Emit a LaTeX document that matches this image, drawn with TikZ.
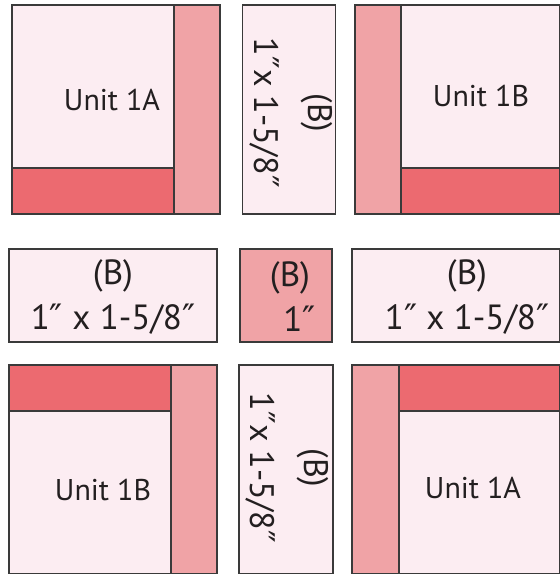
\documentclass[tikz,border=0pt]{standalone}
\usepackage{fontspec}
\setmainfont{PT Sans}
\newfontfamily\markfont{DejaVu Sans}
\definecolor{patchlight}{HTML}{FCEDF2}
\definecolor{patchmid}{HTML}{F0A3A6}
\definecolor{patchdark}{HTML}{EC6A70}
\definecolor{seam}{HTML}{3A3A3A}
\definecolor{ink}{HTML}{231F20}
\newcommand{\inchmark}{{\markfont ″}}

\begin{document}
\begin{tikzpicture}[x=1pt,y=-1pt,line width=1.2pt,
  light/.style={fill=patchlight,draw=seam},
  mid/.style={fill=patchmid,draw=seam},
  dark/.style={fill=patchdark,draw=seam},
  unitlabel/.style={text=ink,inner sep=0pt,font=\fontsize{30}{36}\selectfont},
  cutlabel/.style={text=ink,inner sep=0pt,align=center,font=\fontsize{35}{45}\selectfont},
  striplabel/.style={text=ink,inner sep=0pt,align=center,rotate=-90,font=\fontsize{34}{54}\selectfont}]
\useasboundingbox (0,0) rectangle (560,574);
% top row
\draw[light] (12,5) rectangle (174,168);
\draw[dark] (12,168) rectangle (174,214);
\draw[mid] (174,5) rectangle (220,214);
\node[unitlabel] (unitTL) at (112,100) {Unit 1A};
\draw[light] (242.5,5) rectangle (335.5,214);
\node[striplabel] (stripT) at (291,113) {(B)\\1\inchmark x 1-5/8\inchmark};
\draw[mid] (355,5) rectangle (401,214);
\draw[light] (401,5) rectangle (559.4,168);
\draw[dark] (401,168) rectangle (559.4,214);
\node[unitlabel] (unitTR) at (481,96) {Unit 1B};
%
% middle row
\draw[light] (9,249) rectangle (217,342);
\node[cutlabel] (cutL) at (113,297) {(B)\\1\inchmark{} x 1-5/8\inchmark};
\draw[mid] (240,249) rectangle (332,342);
\node[cutlabel] (cutC) at (290,297) {(B)\\\hphantom{1}1\inchmark};
\draw[light] (352,249) rectangle (559.4,342);
\node[cutlabel] (cutR) at (467,297) {(B)\\1\inchmark{} x 1-5/8\inchmark};
%
% bottom row
\draw[dark] (9,365) rectangle (171,411);
\draw[light] (9,411) rectangle (171,573.4);
\draw[mid] (171,365) rectangle (217,573.4);
\node[unitlabel] (unitBL) at (103,490) {Unit 1B};
\draw[light] (239,365) rectangle (333,573.4);
\node[striplabel] (stripB) at (287,468) {(B)\\1\inchmark x 1-5/8\inchmark};
\draw[mid] (352,365) rectangle (399,573.4);
\draw[dark] (399,365) rectangle (559.4,411);
\draw[light] (399,411) rectangle (559.4,573.4);
\node[unitlabel] (unitBR) at (473,488) {Unit 1A};
\end{tikzpicture}
\end{document}
